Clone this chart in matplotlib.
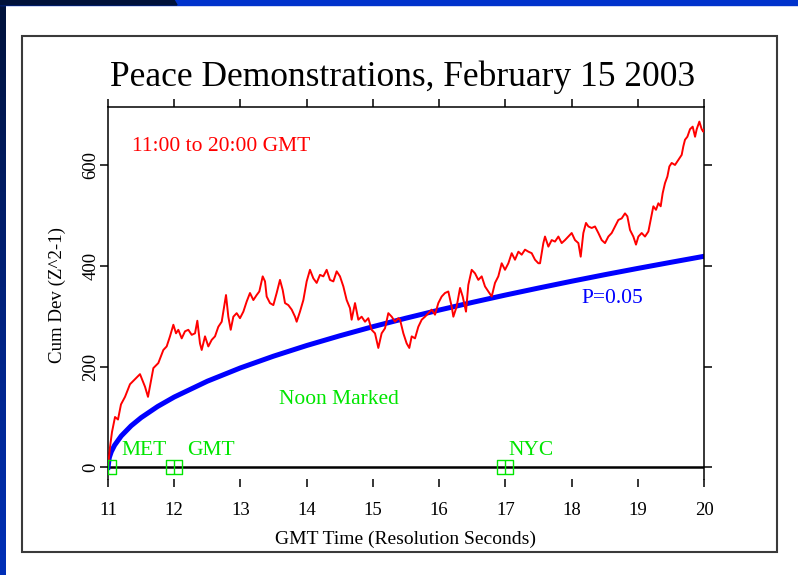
import numpy as np
import matplotlib
matplotlib.use('Agg')
import matplotlib.pyplot as plt
from matplotlib.path import Path
from matplotlib.patches import Rectangle, Polygon
from matplotlib.colors import LinearSegmentedColormap

plt.rcParams['font.family'] = ['Liberation Serif', 'DejaVu Serif']

# cumulative deviation of (Z^2-1) against GMT hour
hours = [11.000, 11.030, 11.060, 11.106, 11.151, 11.196, 11.257, 11.332, 11.408, 11.483,
         11.559, 11.604, 11.685, 11.760, 11.836, 11.886, 11.936, 11.987, 12.027, 12.062,
         12.113, 12.163, 12.213, 12.264, 12.314, 12.349, 12.389, 12.415, 12.465, 12.515,
         12.566, 12.616, 12.666, 12.717, 12.782, 12.817, 12.853, 12.893, 12.943, 12.993,
         13.044, 13.094, 13.144, 13.195, 13.245, 13.285, 13.336, 13.371, 13.396, 13.446,
         13.497, 13.547, 13.597, 13.638, 13.673, 13.723, 13.774, 13.824, 13.849, 13.899,
         13.950, 14.000, 14.050, 14.101, 14.151, 14.201, 14.252, 14.302, 14.352, 14.403,
         14.453, 14.503, 14.554, 14.604, 14.654, 14.679, 14.730, 14.780, 14.830, 14.881,
         14.931, 14.981, 15.032, 15.082, 15.132, 15.183, 15.233, 15.284, 15.334, 15.384,
         15.410, 15.460, 15.510, 15.550, 15.586, 15.636, 15.686, 15.737, 15.787, 15.837,
         15.888, 15.938, 15.988, 16.039, 16.089, 16.139, 16.190, 16.215, 16.265, 16.316,
         16.356, 16.406, 16.441, 16.492, 16.542, 16.592, 16.643, 16.693, 16.743, 16.794,
         16.844, 16.894, 16.945, 16.995, 17.046, 17.096, 17.146, 17.197, 17.247, 17.297,
         17.348, 17.398, 17.448, 17.499, 17.524, 17.574, 17.599, 17.650, 17.700, 17.750,
         17.801, 17.851, 17.901, 17.952, 18.002, 18.052, 18.103, 18.138, 18.178, 18.218,
         18.254, 18.304, 18.354, 18.405, 18.455, 18.505, 18.556, 18.606, 18.656, 18.707,
         18.757, 18.807, 18.843, 18.883, 18.933, 18.973, 19.009, 19.059, 19.109, 19.160,
         19.195, 19.235, 19.275, 19.311, 19.346, 19.376, 19.411, 19.447, 19.477, 19.512,
         19.562, 19.613, 19.663, 19.688, 19.713, 19.749, 19.789, 19.829, 19.865, 19.890,
         19.930, 19.965, 19.990, 20.000]
cumdev = [0, 40, 70, 100, 95, 125, 140, 165, 175, 185,
          160, 140, 197, 207, 233, 240, 260, 283, 266, 273,
          256, 270, 273, 263, 266, 291, 246, 233, 260, 240,
          253, 260, 279, 289, 342, 299, 273, 299, 306, 296,
          309, 329, 346, 332, 342, 349, 379, 369, 339, 326,
          322, 346, 372, 352, 326, 322, 313, 299, 289, 309,
          332, 369, 392, 375, 366, 382, 379, 392, 372, 369,
          389, 379, 359, 332, 316, 293, 326, 293, 299, 289,
          296, 273, 266, 237, 266, 276, 306, 299, 289, 296,
          293, 266, 246, 237, 260, 256, 279, 293, 299, 306,
          313, 303, 326, 339, 346, 349, 319, 299, 319, 356,
          339, 309, 362, 392, 385, 372, 379, 359, 349, 339,
          366, 379, 405, 392, 405, 425, 412, 428, 422, 432,
          428, 425, 412, 405, 405, 445, 458, 438, 451, 448,
          458, 445, 451, 458, 465, 451, 445, 418, 465, 485,
          478, 475, 478, 465, 451, 445, 458, 465, 478, 491,
          494, 504, 498, 471, 458, 442, 458, 465, 458, 468,
          491, 518, 511, 524, 518, 544, 564, 577, 597, 604,
          600, 610, 620, 637, 650, 656, 671, 676, 656, 671,
          686, 671, 666, 670]

# P=0.05 envelope
env_hours = [11.0, 11.02, 11.05, 11.1, 11.2, 11.35, 11.5, 11.75, 12.0, 12.5, 13.0, 13.5,
             14.0, 14.5, 15.0, 15.5, 16.0, 16.5, 17.0, 17.5, 18.0, 18.5, 19.0, 19.5, 20.0]
env_p05 = [0, 19.7, 31.2, 44.1, 62.4, 82.6, 98.7, 120.9, 139.6, 171.0, 197.4, 220.7,
           241.8, 261.1, 279.2, 296.1, 312.1, 327.3, 341.9, 355.8, 369.3, 382.3, 394.8,
           406.9, 418.8]

noon_hours = [11, 12, 17]
noon_labels = ['MET', 'GMT', 'NYC']
noon_label_x = [11.55, 12.55, 17.39]

W, H = 798, 575
fig = plt.figure(figsize=(W / 100, H / 100), dpi=100)

# slide decoration: dark/blue band on top, gradient strip on the left
fig.patches.append(Rectangle((0, 1 - 5 / H), 1, 5 / H, transform=fig.transFigure,
                             color='#0033cc', zorder=0))
fig.patches.append(Polygon([(0, 1 - 5 / H), (177 / W, 1 - 5 / H), (174 / W, 1), (0, 1)],
                           closed=True, transform=fig.transFigure, color='#00123a', zorder=0))
strip = fig.add_axes([0, 0, 6 / W, 1])
grad = np.linspace(0, 1, 256).reshape(-1, 1)
cm = LinearSegmentedColormap.from_list('side', ['#00123a', '#0030b8'])
strip.imshow(grad, aspect='auto', cmap=cm, origin='upper')
strip.axis('off')

# page frame
fig.patches.append(Rectangle((22 / W, 1 - 552 / H), 755 / W, 516 / H, transform=fig.transFigure,
                             fill=False, edgecolor='#3a3a3a', lw=1.5, zorder=1))

ax = fig.add_axes([108 / W, 1 - 479 / H, 596 / W, 372 / H])
ax.set_facecolor('none')

ax.axhline(0, color='black', lw=1.8, zorder=1)
ax.plot(env_hours, env_p05, color='#0000ff', lw=3.6, zorder=2)
ax.plot(hours, cumdev, color='#ff0000', lw=1.4, zorder=3)

# noon markers: box with centre bar
mk = Path([(-0.5, -0.43), (0.5, -0.43), (0.5, 0.43), (-0.5, 0.43), (-0.5, -0.43),
           (0, -0.43), (0, 0.43)],
          [Path.MOVETO, Path.LINETO, Path.LINETO, Path.LINETO, Path.CLOSEPOLY,
           Path.MOVETO, Path.LINETO])
green = '#00e600'
ax.plot(noon_hours, [0] * len(noon_hours), ls='none', marker=mk, ms=11, mfc='none',
        mec=green, mew=1.0, zorder=4)
for lx, lab in zip(noon_label_x, noon_labels):
    ax.text(lx, 33, lab, color=green, fontsize=15.5, ha='center', va='center')

ax.text(11.36, 636, '11:00 to 20:00 GMT', color='#ff0000', fontsize=15.5, ha='left', va='center')
ax.text(14.49, 134, 'Noon Marked', color=green, fontsize=15.5, ha='center', va='center')
ax.text(18.61, 336, 'P=0.05', color='#0000ff', fontsize=15.5, ha='center', va='center')

ax.set_xlim(11, 20)
ax.set_ylim(-23, 715)
ax.set_xticks(range(11, 21))
ax.set_yticks([0, 200, 400, 600])
ax.spines['bottom'].set_visible(False)
for s in ['left', 'right', 'top']:
    ax.spines[s].set_linewidth(1.1)
ax.tick_params(direction='out', length=5.8, width=1.1, labelsize=13.5,
               top=True, right=True, labeltop=False, labelright=False)
ax.tick_params(axis='x', pad=11)
ax.tick_params(axis='y', pad=0.5)
for lab in ax.get_yticklabels():
    lab.set_rotation(90)
    lab.set_va('center')

fig.text(403 / W, 1 - 77 / H, 'Peace Demonstrations, February 15 2003', fontsize=25.5,
         ha='center', va='center')
fig.text(405 / W, 1 - 539 / H, 'GMT Time (Resolution Seconds)', fontsize=14,
         ha='center', va='center')
fig.text(57 / W, 1 - 295 / H, 'Cum Dev (Z^2-1)', fontsize=13.6, rotation=90,
         ha='center', va='center')

fig.savefig('out.png', dpi=100)
